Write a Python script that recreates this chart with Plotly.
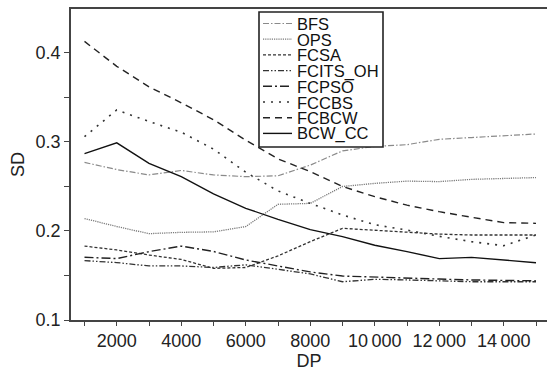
import plotly.graph_objects as go

dp = [1000, 2000, 3000, 4000, 5000, 6000, 7000, 8000, 9000, 10000, 11000, 12000, 13000, 14000, 15000]

bfs      = [0.277, 0.269, 0.263, 0.268, 0.263, 0.261, 0.262, 0.274, 0.290, 0.295, 0.297, 0.303, 0.305, 0.307, 0.309]
ops      = [0.214, 0.205, 0.197, 0.1985, 0.199, 0.205, 0.230, 0.231, 0.250, 0.2535, 0.256, 0.2555, 0.258, 0.259, 0.260]
fcsa     = [0.183, 0.1787, 0.173, 0.168, 0.158, 0.159, 0.172, 0.188, 0.203, 0.201, 0.199, 0.1965, 0.1955, 0.1955, 0.1955]
fcits_oh = [0.1667, 0.1645, 0.1607, 0.1607, 0.159, 0.162, 0.157, 0.1517, 0.143, 0.1457, 0.145, 0.144, 0.143, 0.143, 0.143]
fcpso    = [0.1705, 0.169, 0.1768, 0.183, 0.177, 0.1674, 0.1607, 0.154, 0.1494, 0.148, 0.147, 0.146, 0.145, 0.1445, 0.144]
fccbs    = [0.306, 0.336, 0.323, 0.311, 0.292, 0.266, 0.245, 0.231, 0.218, 0.207, 0.201, 0.194, 0.188, 0.1835, 0.1955]
fcbcw    = [0.413, 0.385, 0.362, 0.344, 0.325, 0.302, 0.281, 0.2667, 0.250, 0.2386, 0.229, 0.2217, 0.2154, 0.2094, 0.2086]
bcw_cc   = [0.287, 0.299, 0.276, 0.261, 0.2416, 0.2255, 0.213, 0.2015, 0.1936, 0.184, 0.1768, 0.169, 0.1704, 0.1674, 0.1644]

names = ["BFS", "OPS", "FCSA", "FCITS_OH", "FCPSO", "FCCBS", "FCBCW", "BCW_CC"]
series = [bfs, ops, fcsa, fcits_oh, fcpso, fccbs, fcbcw, bcw_cc]

x_tickvals = [2000, 4000, 6000, 8000, 10000, 12000, 14000]
x_ticktext = ["2000", "4000", "6000", "8000", "10\u2009000", "12\u2009000", "14\u2009000"]
x_minor = [1000, 3000, 5000, 7000, 9000, 11000, 13000, 15000]
y_tickvals = [0.1, 0.2, 0.3, 0.4]
y_ticktext = ["0.1", "0.2", "0.3", "0.4"]
y_minor = [0.15, 0.25, 0.35]

styles = [
    dict(color="#8a8a8a", width=1.2, dash="6px,2px,1.5px,2px"),
    dict(color="#7a7a7a", width=1.3, dash="1.2px,1px"),
    dict(color="#333333", width=1.3, dash="3px,2px"),
    dict(color="#333333", width=1.3, dash="6px,2px,1.5px,2px,1.5px,2px"),
    dict(color="#222222", width=1.4, dash="9px,3px,2px,3px"),
    dict(color="#333333", width=1.6, dash="2px,6px"),
    dict(color="#222222", width=1.4, dash="7px,5px"),
    dict(color="#111111", width=1.4, dash="solid"),
]

FONT = "Liberation Sans, Arial, sans-serif"
W, H = 547, 372
L, R, T, B = 71, 0, 9, 52

fig = go.Figure()
for nm, ys, st in zip(names, series, styles):
    fig.add_trace(go.Scatter(x=dp, y=ys, name=nm, mode="lines", line=st, showlegend=False))

# manual legend (box, samples, labels) in paper coordinates
pw, ph = W - L - R, H - T - B
def px2x(px):
    return (px - L) / pw
def py2y(py):
    return (H - B - py) / ph

box_l, box_r, box_t, box_b = 259, 383, 12, 147
shapes = [dict(type="rect", xref="paper", yref="paper",
               x0=px2x(box_l), x1=px2x(box_r), y0=py2y(box_b), y1=py2y(box_t),
               line=dict(color="#222222", width=1.6), fillcolor="white", layer="above")]
annotations = []
first_y, step = 23.5, 15.7
for i, (nm, st) in enumerate(zip(names, styles)):
    yy = first_y + i * step
    shapes.append(dict(type="line", xref="paper", yref="paper",
                       x0=px2x(263), x1=px2x(292), y0=py2y(yy), y1=py2y(yy),
                       line=dict(color=st["color"], width=st["width"], dash=st["dash"]), layer="above"))
    annotations.append(dict(xref="paper", yref="paper", x=px2x(296), y=py2y(yy + 0.5),
                            xanchor="left", yanchor="middle", text=nm, showarrow=False,
                            borderpad=0,
                            font=dict(family=FONT, size=16.5, color="#111111")))

fig.update_layout(
    width=W, height=H,
    margin=dict(l=L, r=R, t=T, b=B, pad=0),
    paper_bgcolor="white", plot_bgcolor="white",
    font=dict(family=FONT, size=18, color="#222222"),
    shapes=shapes, annotations=annotations,
    showlegend=False,
)
fig.update_xaxes(
    range=[581, 15341], showgrid=False, zeroline=False,
    showline=True, linecolor="#444444", linewidth=1.6, mirror=True,
    tickmode="array", tickvals=x_tickvals, ticktext=x_ticktext,
    ticks="outside", ticklen=4, tickwidth=1.2, tickcolor="#444444",
    minor=dict(tickmode="array", tickvals=x_minor, ticks="outside", ticklen=4, tickwidth=1.2, tickcolor="#444444", showgrid=False),
    tickfont=dict(size=18, color="#222222"),
    title=dict(text="DP", font=dict(size=18, color="#222222"), standoff=3),
)
fig.update_yaxes(
    range=[0.1, 0.4494], showgrid=False, zeroline=False,
    showline=True, linecolor="#444444", linewidth=1.6, mirror=False,
    tickmode="array", tickvals=y_tickvals, ticktext=y_ticktext,
    ticks="outside", ticklen=5, tickwidth=1.2, tickcolor="#444444",
    minor=dict(tickmode="array", tickvals=y_minor, ticks="outside", ticklen=5, tickwidth=1.2, tickcolor="#444444", showgrid=False),
    tickfont=dict(size=18, color="#222222"),
    title=dict(text="SD", font=dict(size=18, color="#222222"), standoff=6),
)

fig.write_html("out.html")
